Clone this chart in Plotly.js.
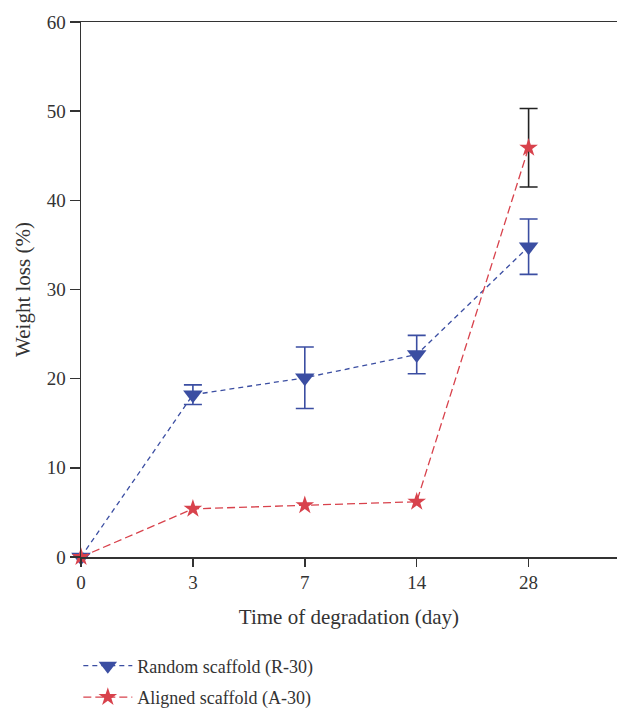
<!DOCTYPE html>
<html>
<head>
<meta charset="utf-8">
<script src="https://cdn.plot.ly/plotly-3.0.1.min.js"></script>
<style>html,body{margin:0;padding:0;background:#fff;}#chart{width:617px;height:710px;}</style>
</head>
<body>
<div id="chart"></div>
<script>
const days = ["0", "3", "7", "14", "28"];
const randomLoss = [0, 18.2, 20.1, 22.7, 34.8];
const randomErr = [NaN, 1.1, 3.45, 2.15, 3.1];
const alignedLoss = [0, 5.4, 5.8, 6.2, 45.9];
const alignedErr = [NaN, NaN, NaN, NaN, 4.4];
const seriesNames = ["Random scaffold (R-30)", "Aligned scaffold (A-30)"];

const fontFam = "Liberation Serif, DejaVu Serif, serif";
const blue = "#3b4ea2";
const red = "#d8424c";

const traces = [
  {
    x: days, y: randomLoss, name: seriesNames[0], legendgroup: "r", type: "scatter", mode: "lines+markers",
    line: {color: blue, width: 1.3, dash: "5px,4px"},
    marker: {symbol: "triangle-down", size: 17, color: blue},
    error_y: {type: "data", array: randomErr, visible: true, color: blue, thickness: 1.6, width: 9},
    cliponaxis: false
  },
  {
    x: days, y: alignedLoss, name: seriesNames[1], legendgroup: "a", type: "scatter", mode: "lines+markers",
    line: {color: red, width: 1.3, dash: "8px,4px"},
    marker: {symbol: "star", size: 14, color: red},
    error_y: {type: "data", array: alignedErr, visible: true, color: "#222", thickness: 1.6, width: 9},
    cliponaxis: false
  }
];

const layout = {
  width: 617, height: 710,
  margin: {l: 81, r: 0, t: 22, b: 153},
  paper_bgcolor: "#fff", plot_bgcolor: "#fff",
  font: {family: fontFam, size: 19, color: "#333"},
  showlegend: true,
  legend: {xref: "paper", x: -0.005, xanchor: "left", yref: "container", y: 0.088, yanchor: "top",
           traceorder: "grouped", tracegroupgap: 5, itemwidth: 49,
           font: {family: fontFam, size: 18, color: "#333"}, bgcolor: "rgba(0,0,0,0)"},
  xaxis: {
    type: "category", range: [0, 4.79], showgrid: false, zeroline: false,
    showline: true, linecolor: "#333", linewidth: 1.5, mirror: true,
    ticks: "outside", ticklen: 8, tickwidth: 1.5, tickcolor: "#333",
    title: {text: "Time of degradation (day)", font: {family: fontFam, size: 21, color: "#333"}, standoff: 17},
    tickfont: {family: fontFam, size: 19, color: "#333"}
  },
  yaxis: {
    range: [0, 60], dtick: 10, showgrid: false, zeroline: false,
    showline: true, linecolor: "#333", linewidth: 1.5,
    ticks: "outside", ticklen: 10, tickwidth: 1.5, tickcolor: "#333",
    title: {text: "Weight loss (%)", font: {family: fontFam, size: 21, color: "#333"}, standoff: 10},
    tickfont: {family: fontFam, size: 19, color: "#333"}
  }
};

Plotly.newPlot("chart", traces, layout, {displayModeBar: false, staticPlot: true});
</script>
</body>
</html>
